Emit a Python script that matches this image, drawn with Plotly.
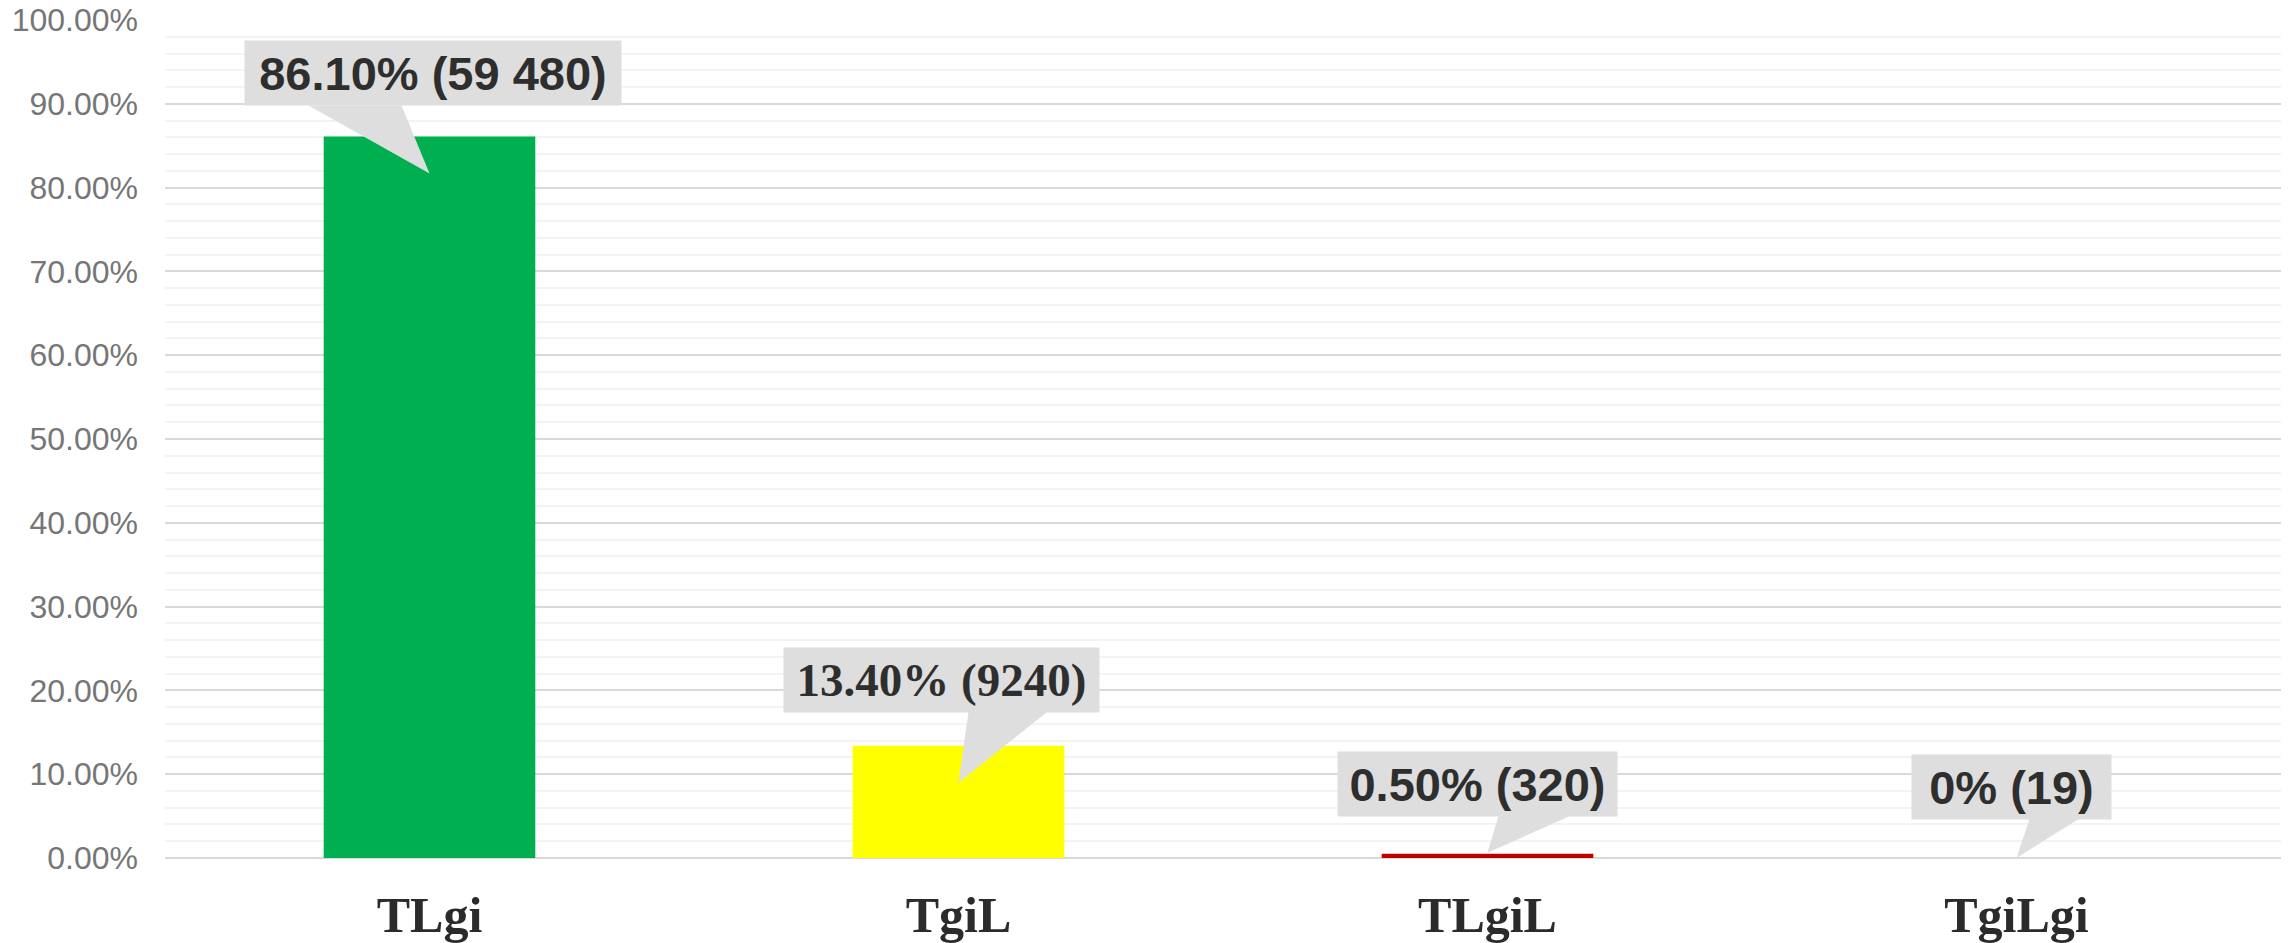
import plotly.graph_objects as go

# ---- data ----
categories = ["TLgi", "TgiL", "TLgiL", "TgiLgi"]
shares = [0.861, 0.134, 0.005, 0.0]
label_texts = ["86.10% (59 480)", "13.40% (9240)", "0.50% (320)", "0% (19)"]

# ---- styles ----
bar_colors = ["#00b050", "#ffff00", "#c00000", "#0070c0"]
label_fonts = ["Liberation Sans", "Liberation Serif", "Liberation Sans", "Liberation Sans"]
box_widths = [376, 315, 279, 199]          # px
box_xshift = [3, -17, -10, -5]             # px
box_yshift = [30, 33, 37, 38]              # px above bar top
wedge_base = [(-121, -28), (10, 89), (11, 83), (13, 62)]  # px from category centre
wedge_tip_drop = [37, 37, -1, 0]           # px below bar top

xpos = list(range(len(categories)))

fig = go.Figure()
fig.add_trace(go.Bar(
    x=xpos, y=shares, width=0.4,
    marker=dict(color=bar_colors, line=dict(width=0)),
    hoverinfo="skip", showlegend=False,
))

shapes = []
annotations = []
for i, (xv, yv) in enumerate(zip(xpos, shares)):
    b0, b1 = wedge_base[i]
    base_y = box_yshift[i] + 1
    tip_y = -wedge_tip_drop[i]
    shapes.append(dict(
        type="path", xref="x", yref="y",
        xsizemode="pixel", ysizemode="pixel",
        xanchor=xv, yanchor=yv,
        path=f"M {b0},{base_y} L {b1},{base_y} L 0,{tip_y} Z",
        fillcolor="#dedede", line=dict(width=0), layer="above",
    ))
    annotations.append(dict(
        x=xv, y=yv, xref="x", yref="y",
        text=label_texts[i], showarrow=False,
        xanchor="center", yanchor="bottom",
        xshift=box_xshift[i], yshift=box_yshift[i],
        width=box_widths[i], height=64, align="center",
        bgcolor="#dedede", borderpad=0,
        font=dict(family=label_fonts[i], size=47, color="#2e2e2e", weight="bold"),
    ))

fig.update_layout(
    width=2290, height=943,
    margin=dict(l=165, r=9, t=20, b=85, autoexpand=False),
    paper_bgcolor="white", plot_bgcolor="white",
    shapes=shapes, annotations=annotations,
    xaxis=dict(
        range=[-0.5, 3.5], tickmode="array", tickvals=xpos, ticktext=categories,
        showgrid=False, zeroline=False, showline=False, ticks="", automargin=False,
        tickfont=dict(family="Liberation Serif", size=50, color="#2b2b2b", weight="bold"),
        ticklabelstandoff=23,
    ),
    yaxis=dict(
        range=[0, 1], dtick=0.1, tickformat=".2%", automargin=False,
        showgrid=True, gridcolor="#d9d9d9", gridwidth=2,
        zeroline=True, zerolinecolor="#d9d9d9", zerolinewidth=2,
        showline=False, ticks="",
        tickfont=dict(family="Liberation Sans", size=32, color="#767676"),
        ticklabelstandoff=26,
        minor=dict(dtick=0.02, showgrid=True, gridcolor="#f3f3f3", gridwidth=2),
    ),
)

fig.write_html("out.html", config={"displayModeBar": False},
               post_script="document.body.style.margin='0';")
